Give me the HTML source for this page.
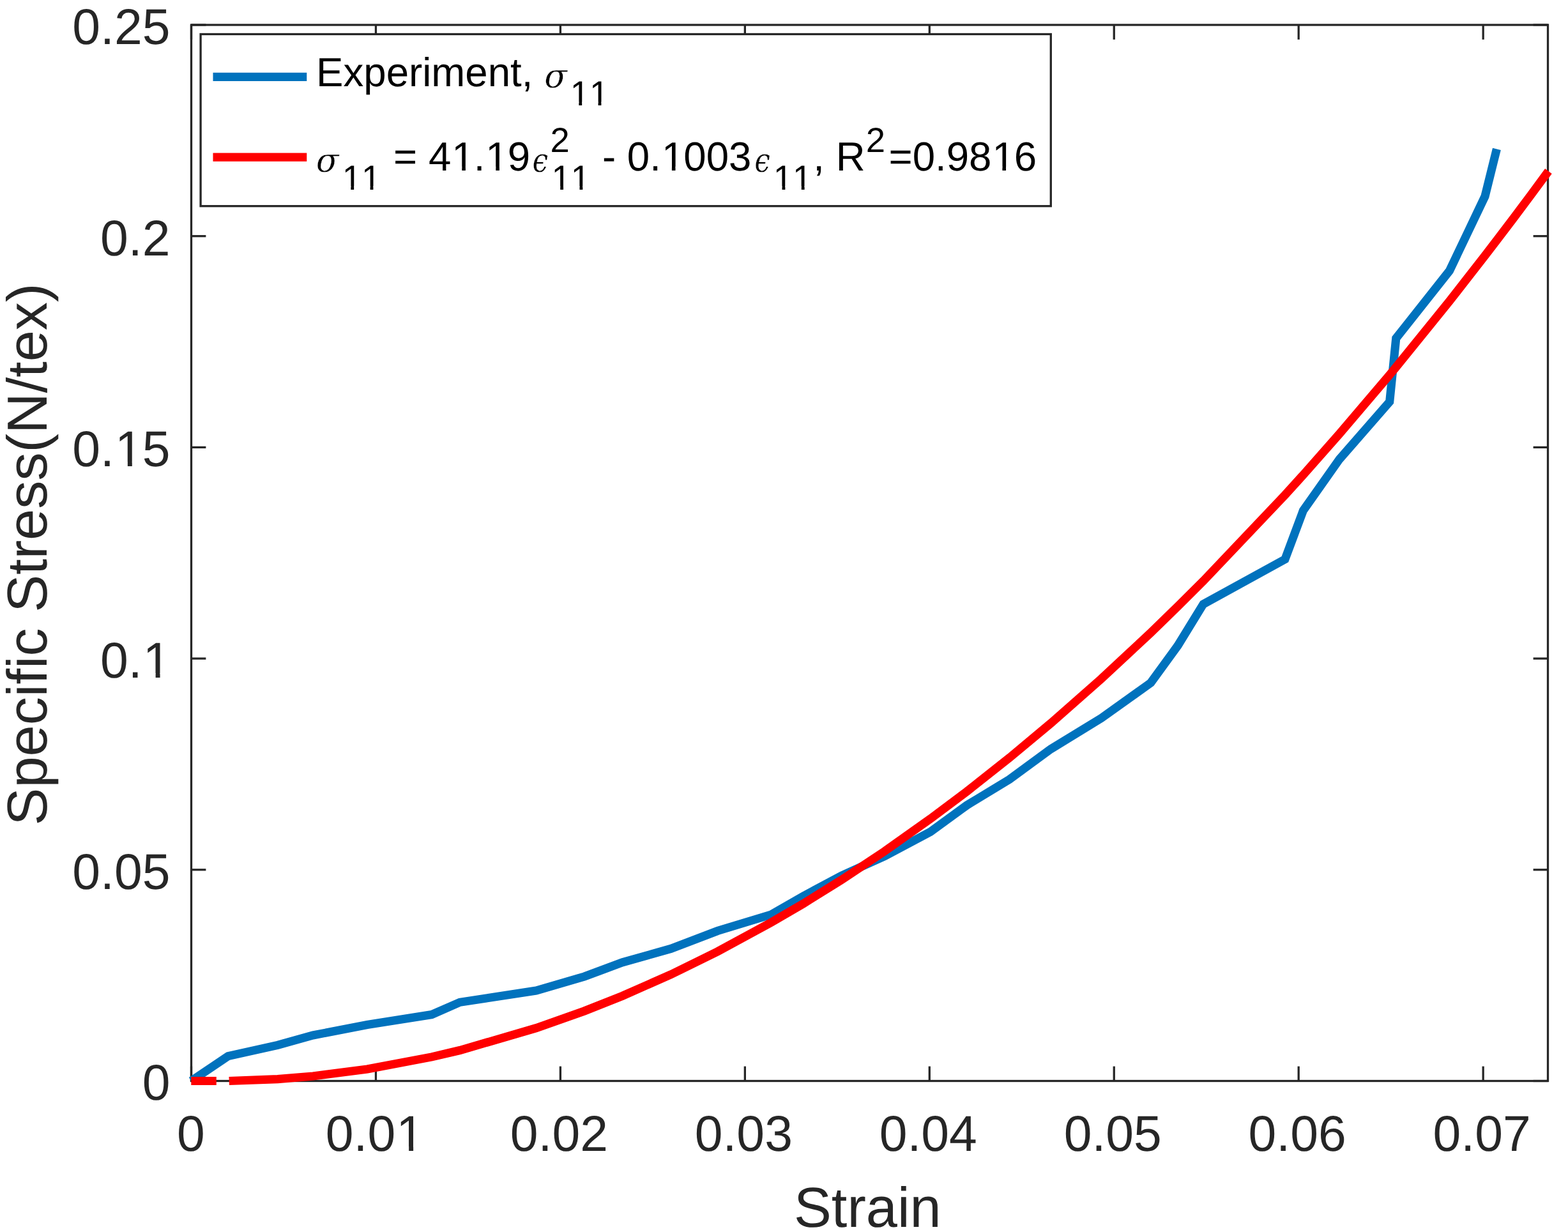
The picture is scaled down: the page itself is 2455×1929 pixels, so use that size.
<!DOCTYPE html>
<html lang="en"><head><meta charset="utf-8"><title>Specific Stress vs Strain</title>
<style>
html,body{margin:0;padding:0;background:#fff;}
body{width:2455px;height:1929px;overflow:hidden;}
svg{display:block;}
text{font-family:"Liberation Sans",Arial,Helvetica,sans-serif;font-kerning:none;white-space:pre;text-rendering:geometricPrecision;}
.tk{font-size:78.7px;fill:#262626;}
.lb{font-size:88.3px;fill:#262626;}
.lg{font-size:63.6px;fill:#000;}
.ss{font-size:54.4px;fill:#000;}
.gr{font-family:"DejaVu Math TeX Gyre","DejaVu Serif","Liberation Serif",serif;font-size:52px;fill:#000;stroke:#fff;stroke-width:0.35px;paint-order:fill stroke;}
</style></head><body>
<svg width="2455" height="1929" viewBox="0 0 2455 1929">
<rect x="0" y="0" width="2455" height="1929" fill="#ffffff"/>
<g stroke="#262626" stroke-width="3.3" fill="none" stroke-linecap="square">
<rect x="299.5" y="39.0" width="2124.0" height="1653.5" />
</g>
<g stroke="#262626" stroke-width="3.3" fill="none" stroke-linecap="butt">
<line x1="299.50" y1="1692.5" x2="299.50" y2="1669.6"/>
<line x1="299.50" y1="39.0" x2="299.50" y2="61.9"/>
<line x1="588.45" y1="1692.5" x2="588.45" y2="1669.6"/>
<line x1="588.45" y1="39.0" x2="588.45" y2="61.9"/>
<line x1="877.40" y1="1692.5" x2="877.40" y2="1669.6"/>
<line x1="877.40" y1="39.0" x2="877.40" y2="61.9"/>
<line x1="1166.35" y1="1692.5" x2="1166.35" y2="1669.6"/>
<line x1="1166.35" y1="39.0" x2="1166.35" y2="61.9"/>
<line x1="1455.30" y1="1692.5" x2="1455.30" y2="1669.6"/>
<line x1="1455.30" y1="39.0" x2="1455.30" y2="61.9"/>
<line x1="1744.25" y1="1692.5" x2="1744.25" y2="1669.6"/>
<line x1="1744.25" y1="39.0" x2="1744.25" y2="61.9"/>
<line x1="2033.20" y1="1692.5" x2="2033.20" y2="1669.6"/>
<line x1="2033.20" y1="39.0" x2="2033.20" y2="61.9"/>
<line x1="2322.15" y1="1692.5" x2="2322.15" y2="1669.6"/>
<line x1="2322.15" y1="39.0" x2="2322.15" y2="61.9"/>
<line x1="299.5" y1="1692.50" x2="322.4" y2="1692.50"/>
<line x1="2423.5" y1="1692.50" x2="2400.6" y2="1692.50"/>
<line x1="299.5" y1="1361.80" x2="322.4" y2="1361.80"/>
<line x1="2423.5" y1="1361.80" x2="2400.6" y2="1361.80"/>
<line x1="299.5" y1="1031.10" x2="322.4" y2="1031.10"/>
<line x1="2423.5" y1="1031.10" x2="2400.6" y2="1031.10"/>
<line x1="299.5" y1="700.40" x2="322.4" y2="700.40"/>
<line x1="2423.5" y1="700.40" x2="2400.6" y2="700.40"/>
<line x1="299.5" y1="369.70" x2="322.4" y2="369.70"/>
<line x1="2423.5" y1="369.70" x2="2400.6" y2="369.70"/>
<line x1="299.5" y1="39.00" x2="322.4" y2="39.00"/>
<line x1="2423.5" y1="39.00" x2="2400.6" y2="39.00"/>
</g>
<polyline points="299.5,1692.5 357.2,1653.6 434.8,1636.4 490.0,1621.0 575.0,1604.5 676.0,1588.5 720.0,1569.3 839.5,1551.0 915.0,1529.0 974.5,1506.9 1050.4,1485.4 1123.5,1457.5 1207.5,1432.0 1257.6,1403.2 1317.5,1371.1 1385.0,1340.5 1456.8,1302.3 1513.8,1260.8 1580.5,1220.3 1645.3,1172.8 1724.5,1124.3 1801.8,1069.0 1844.0,1011.0 1884.0,945.9 2011.9,875.7 2040.4,799.4 2097.3,718.8 2175.7,629.1 2185.8,529.7 2269.5,423.9 2325.0,307.4 2343.4,233.3" fill="none" stroke="#0072BD" stroke-width="13.2" stroke-linejoin="miter" stroke-linecap="butt"/>
<line x1="299.3" y1="1692.5" x2="338.8" y2="1692.5" stroke="#FF0000" stroke-width="13.2"/>
<polyline points="358.7,1692.5 434.8,1689.6 490.0,1685.0 575.0,1674.1 676.0,1654.9 720.0,1644.5 839.5,1609.7 915.0,1583.0 974.5,1559.3 1050.4,1525.8 1123.5,1489.9 1207.5,1444.3 1257.6,1415.0 1317.5,1377.7 1385.0,1332.9 1456.8,1282.0 1513.8,1239.2 1580.5,1186.5 1645.3,1132.4 1724.5,1062.6 1801.8,990.6 1844.0,949.6 1884.0,909.7 2011.9,775.0 2040.4,743.6 2097.3,679.2 2175.7,587.0 2185.8,574.8 2269.5,471.4 2325.0,400.3 2343.4,376.3 2370.4,340.7 2397.4,304.6 2424.4,268.0" fill="none" stroke="#FF0000" stroke-width="13.2" stroke-linejoin="miter" stroke-linecap="butt"/>
<text class="tk" x="276.92" y="1802.00">0</text>
<text class="tk" x="509.86" y="1802.00">0.0<tspan dx="1.10">1</tspan></text>
<text class="tk" x="798.81" y="1802.00">0.02</text>
<text class="tk" x="1087.76" y="1802.00">0.03</text>
<text class="tk" x="1376.71" y="1802.00">0.04</text>
<text class="tk" x="1665.66" y="1802.00">0.05</text>
<text class="tk" x="1954.61" y="1802.00">0.06</text>
<text class="tk" x="2243.56" y="1802.00">0.07</text>
<text class="tk" x="222.73" y="1722.40">0</text>
<text class="tk" x="113.33" y="1391.70">0.05</text>
<text class="tk" x="157.10" y="1061.00">0.<tspan dx="1.10">1</tspan></text>
<text class="tk" x="113.33" y="730.30">0.<tspan dx="1.10">1</tspan><tspan dx="-1.10">5</tspan></text>
<text class="tk" x="157.10" y="399.60">0.2</text>
<text class="tk" x="113.33" y="68.90">0.25</text>
<text class="lb" x="1358.3" y="1921" text-anchor="middle">Strain</text>
<text class="lb" transform="translate(73.2,868) rotate(-90)" text-anchor="middle">Specific Stress(N/tex)</text>
<rect x="314.1" y="53.5" width="1331.2" height="269.2" fill="#fff" stroke="#262626" stroke-width="3.3"/>
<line x1="333.5" y1="120.4" x2="480.3" y2="120.4" stroke="#0072BD" stroke-width="13.2"/>
<line x1="333.5" y1="246.1" x2="480.3" y2="246.1" stroke="#FF0000" stroke-width="13.2"/>
<text class="lg" x="495.1" y="135.0">Experiment, </text>
<text class="gr" x="850.5" y="136.8">𝜎</text>
<text class="ss" x="892.67" y="164.70">11</text>
<text class="gr" x="493.0" y="268.7">𝜎</text>
<text class="ss" x="535.67" y="296.60">11</text>
<text class="lg" x="616.10" y="266.90">= 4<tspan dx="1.00">1</tspan><tspan dx="-1.00">.</tspan><tspan dx="1.00">1</tspan><tspan dx="-1.00">9</tspan></text>
<text class="gr" transform="translate(831.9,268.7) scale(0.84,1)">𝜖</text>
<text class="ss" x="861.57" y="238.10">2</text>
<text class="ss" x="863.57" y="296.60">11</text>
<text class="lg" x="943.00" y="266.90">- 0.<tspan dx="1.00">1</tspan><tspan dx="-1.00">0</tspan>03</text>
<text class="gr" transform="translate(1179.8,268.7) scale(0.84,1)">𝜖</text>
<text class="ss" x="1210.87" y="296.60">11</text>
<text class="lg" x="1273.30" y="266.90">, R</text>
<text class="ss" x="1355.82" y="238.10">2</text>
<text class="lg" x="1391.50" y="266.90">=0.98<tspan dx="1.00">1</tspan><tspan dx="-1.00">6</tspan></text>
<g fill="#ffffff">
<rect x="625.36" y="1795.12" width="14.80" height="7.88"/>
<rect x="647.11" y="1795.12" width="14.18" height="7.88"/>
<rect x="228.83" y="1054.12" width="14.80" height="7.88"/>
<rect x="250.58" y="1054.12" width="14.18" height="7.88"/>
<rect x="185.06" y="723.42" width="14.80" height="7.88"/>
<rect x="206.81" y="723.42" width="14.18" height="7.88"/>
<rect x="895.81" y="159.64" width="10.54" height="6.06"/>
<rect x="911.16" y="159.64" width="10.11" height="6.06"/>
<rect x="926.07" y="159.64" width="10.54" height="6.06"/>
<rect x="941.41" y="159.64" width="10.11" height="6.06"/>
<rect x="538.81" y="291.54" width="10.54" height="6.06"/>
<rect x="554.16" y="291.54" width="10.11" height="6.06"/>
<rect x="569.07" y="291.54" width="10.54" height="6.06"/>
<rect x="584.41" y="291.54" width="10.11" height="6.06"/>
<rect x="711.13" y="261.15" width="12.15" height="6.75"/>
<rect x="728.90" y="261.15" width="11.65" height="6.75"/>
<rect x="764.17" y="261.15" width="12.15" height="6.75"/>
<rect x="781.94" y="261.15" width="11.65" height="6.75"/>
<rect x="866.71" y="291.54" width="10.54" height="6.06"/>
<rect x="882.06" y="291.54" width="10.11" height="6.06"/>
<rect x="896.97" y="291.54" width="10.54" height="6.06"/>
<rect x="912.31" y="291.54" width="10.11" height="6.06"/>
<rect x="1039.74" y="261.15" width="12.15" height="6.75"/>
<rect x="1057.50" y="261.15" width="11.65" height="6.75"/>
<rect x="1214.01" y="291.54" width="10.54" height="6.06"/>
<rect x="1229.36" y="291.54" width="10.11" height="6.06"/>
<rect x="1244.27" y="291.54" width="10.54" height="6.06"/>
<rect x="1259.61" y="291.54" width="10.11" height="6.06"/>
<rect x="1557.27" y="261.15" width="12.15" height="6.75"/>
<rect x="1575.04" y="261.15" width="11.65" height="6.75"/>
</g>
</svg>
</body></html>
